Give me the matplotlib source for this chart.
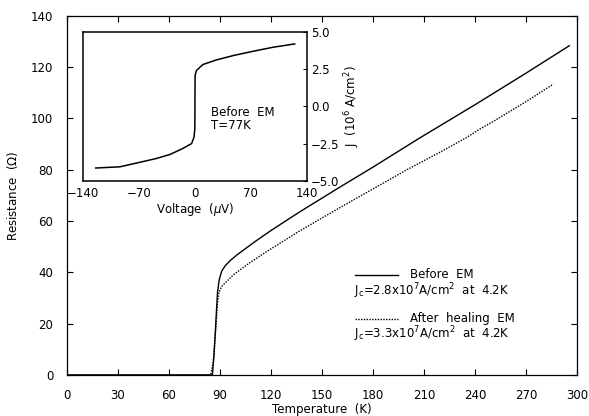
import matplotlib
matplotlib.use("Agg")
import matplotlib.pyplot as plt

plt.rcParams['font.family'] = 'DejaVu Sans'
plt.rcParams['mathtext.default'] = 'regular'
plt.rcParams['font.size'] = 8

# R(T) before electromigration (solid)
t_before = [0, 40, 80, 85.5, 86.5, 87.5, 88.5, 89.5, 91, 93, 96, 100, 110, 120, 130,
            137, 160, 180, 207.6, 240, 270, 295.5]
r_before = [0, 0, 0, 0, 8, 20, 32, 37, 40.5, 42.5, 44.6, 46.8, 51.7, 56.3, 60.6,
            63.6, 73, 81, 92.4, 105.3, 117.6, 128.3]

# R(T) after healing EM (dotted)
t_after = [0, 40, 80, 84.5, 86, 87.5, 88.5, 89.5, 91, 94, 97.8, 107, 117.5, 137,
           160, 180, 200, 220, 235, 242, 250, 270, 286]
r_after = [0, 0, 0, 0, 5, 18, 28, 32.5, 34.5, 36.5, 39, 43.5, 48.1, 56.2,
           65, 72.5, 80, 87, 92.5, 95.5, 98.5, 106.5, 113.3]

# inset: J-V curve at 77 K
v_iv = [-124, -94, -69, -48, -31, -15, -4, -1, 0, 0.3, 2, 10, 27, 48, 73, 98, 125]
j_iv = [-4.13, -4.05, -3.75, -3.49, -3.22, -2.82, -2.49, -2.05, -1.5, 2.07, 2.4,
        2.8, 3.11, 3.4, 3.69, 3.96, 4.18]

fig = plt.figure(figsize=(5.89, 4.16), dpi=100)
ax = fig.add_axes([0.1138, 0.0986, 0.8658, 0.8637])

ax.plot(t_before, r_before, color='black', lw=1.0)
ax.plot(t_after, r_after, color='black', lw=1.0, linestyle=(0, (1, 1)))

ax.set_xlim(0, 300)
ax.set_ylim(0, 140)
ax.set_xticks(range(0, 301, 30))
ax.set_yticks(range(0, 141, 20))
ax.tick_params(direction='in', length=4, width=0.8, pad=10,
               top=True, right=True, labelsize=8.5)
for s in ax.spines.values():
    s.set_linewidth(0.9)
ax.set_xlabel('Temperature  (K)', fontsize=8.5, labelpad=1)
ax.set_ylabel('Resistance  ($\\Omega$)', fontsize=8.5, labelpad=8)

# legend drawn by hand: sample line, name, then Jc below
tr = ax.transAxes
ax.plot([0.564, 0.649], [0.279, 0.279], color='black', lw=1.0, transform=tr)
ax.text(0.672, 0.279, 'Before  EM', transform=tr, va='center', fontsize=8.5)
ax.text(0.562, 0.232, r'J$_c$=2.8x10$^7$A/cm$^2$  at  4.2K', transform=tr,
        va='center', fontsize=8.5)
ax.plot([0.564, 0.649], [0.156, 0.156], color='black', lw=1.0,
        linestyle=(0, (1, 1)), transform=tr)
ax.text(0.672, 0.156, 'After  healing  EM', transform=tr, va='center', fontsize=8.5)
ax.text(0.562, 0.113, r'J$_c$=3.3x10$^7$A/cm$^2$  at  4.2K', transform=tr,
        va='center', fontsize=8.5)

# inset
ins = fig.add_axes([0.1409, 0.5649, 0.3798, 0.3589])
ins.plot(v_iv, j_iv, color='black', lw=1.1)
ins.set_xlim(-140, 140)
ins.set_ylim(-5, 5)
ins.set_xticks([-140, -70, 0, 70, 140])
ins.set_yticks([-5, -2.5, 0, 2.5, 5])
ins.set_yticklabels(['\u22125.0', '\u22122.5', '0.0', '2.5', '5.0'])
ins.yaxis.tick_right()
ins.yaxis.set_label_position('right')
ins.tick_params(axis='x', direction='in', length=0, pad=4, labelsize=8.5)
ins.tick_params(axis='y', direction='in', length=3, pad=3, labelsize=8.5)
for s in ins.spines.values():
    s.set_linewidth(1.1)
ins.set_xlabel('Voltage  ($\\it{\\mu}$V)', fontsize=8.5, labelpad=1)
ins.set_ylabel('J  (10$^6$ A/cm$^2$)', fontsize=8.5, labelpad=2)
ins.text(0.57, 0.415, 'Before  EM\nT=77K', transform=ins.transAxes,
         fontsize=8.5, va='center', linespacing=1.0)

fig.savefig('out.png', dpi=100)
